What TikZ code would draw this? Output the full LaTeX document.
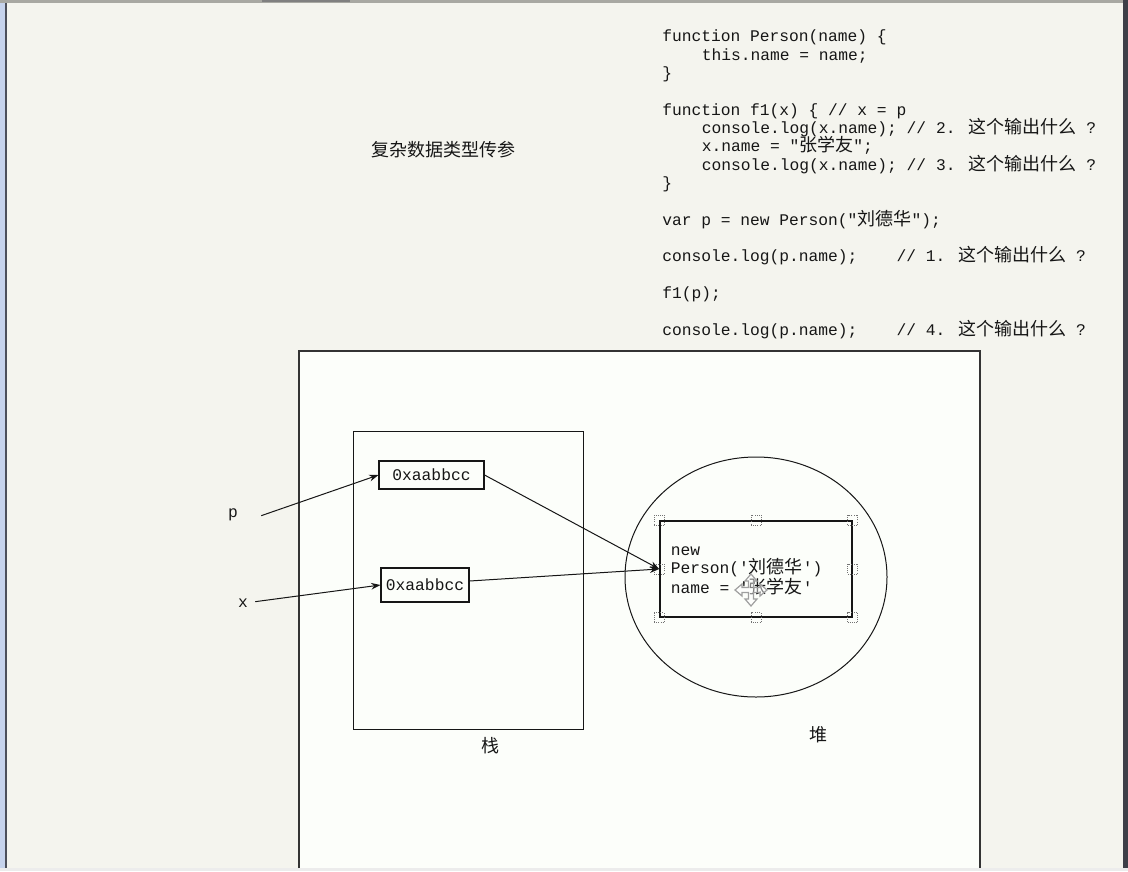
\documentclass[tikz,border=0pt]{standalone}
\usepackage{fontspec}
\usetikzlibrary{arrows.meta,shapes.geometric}
\newfontfamily\monoface{Liberation Mono}
\newfontfamily\cjk{Noto Sans CJK SC}
\newcommand\zh[1]{{\cjk\fontsize{13.5pt}{13.5pt}\selectfont #1}}
\definecolor{deskbg}{HTML}{F4F4EE}
\definecolor{sheetbg}{HTML}{FCFEFA}
\definecolor{frameblue}{HTML}{C6D3EC}
\definecolor{framedark}{HTML}{4C4F5A}
\definecolor{edgegray}{HTML}{A8A8A2}
\definecolor{ink}{HTML}{161616}
\tikzset{
  code/.style={anchor=base west, inner sep=0pt, text=ink,
    font=\monoface\fontsize{12.2pt}{13.5pt}\selectfont},
  cell/.style={draw=ink, line width=0.8pt, inner sep=0pt, text=ink,
    font=\monoface\fontsize{12.2pt}{13.5pt}\selectfont},
  arr/.style={-{Stealth[length=7pt,width=5pt]}, line width=0.75pt, draw=ink},
  handle/.style={draw=black!55, densely dotted, line width=0.6pt, minimum size=7.5pt, inner sep=0pt},
  zhlabel/.style={font=\cjk\fontsize{13.5pt}{13.5pt}\selectfont, text=ink, inner sep=0pt},
  letter/.style={font=\monoface\fontsize{12.2pt}{13.5pt}\selectfont, text=ink},
}
\begin{document}
\begin{tikzpicture}[x=0.75pt,y=-0.75pt]
\useasboundingbox (0,0) rectangle (1128,871);
% desk and window frame
\fill[deskbg] (0,0) rectangle (1128,871);
\fill[frameblue] (0,0) rectangle (4.5,871);
\fill[framedark] (4.5,0) rectangle (7,871);
\fill[edgegray] (0,0) rectangle (1128,2.5);
\fill[gray] (262,0) rectangle (350,1.5);
\fill[framedark!80!black] (1123,0) rectangle (1128,871);
\fill[gray!15] (0,868) rectangle (1128,871);

% white drawing sheet
\fill[sheetbg] (299,351) rectangle (980,868);
\draw[line width=1.4pt, draw=black!80] (299,868) -- (299,351) -- (980,351) -- (980,868);

% title
\node[zhlabel] (title) at (443,150) {复杂数据类型传参};

% source code
\node[code] (c1) at (662,41.7) {function Person(name) \{};
\node[code] (c2) at (701.5,60.05) {this.name = name;};
\node[code] (c3) at (662,78.4) {\}};
\node[code] (c4) at (662,115.1) {function f1(x) \{ // x = p};
\node[code] (c5) at (701.5,133.45) {console.log(x.name); // 2. \zh{这个输出什么} ?};
\node[code] (c6) at (701.5,151.8) {x.name = "\zh{张学友}";};
\node[code] (c7) at (701.5,170.15) {console.log(x.name); // 3. \zh{这个输出什么} ?};
\node[code] (c8) at (662,188.5) {\}};
\node[code] (c9) at (662,225.2) {var p = new Person("\zh{刘德华}");};
\node[code] (c10) at (662,261.9) {console.log(p.name);\ \ \ \ // 1. \zh{这个输出什么} ?};
\node[code] (c11) at (662,298.6) {f1(p);};
\node[code] (c12) at (662,335.3) {console.log(p.name);\ \ \ \ // 4. \zh{这个输出什么} ?};

% stack
\node[draw=ink, line width=0.8pt, inner sep=0pt, minimum width=172.5pt,
      minimum height=223.5pt, anchor=north west] (stack) at (353,431) {};
\node[zhlabel] (stacklbl) at (490,746) {栈};
\node[cell, minimum width=78.75pt, minimum height=21pt] (box1) at (431.5,475) {0xaabbcc};
\node[cell, minimum width=66pt, minimum height=25.5pt] (box2) at (425,585) {0xaabbcc};

% heap
\node[draw=ink, line width=0.75pt, ellipse, inner sep=0pt, minimum width=196.5pt,
      minimum height=180pt] (heap) at (756,577) {};
\node[zhlabel] (heaplbl) at (818,735) {堆};
\node[cell, line width=1.2pt, minimum width=144pt, minimum height=72pt] (obj) at (756,569) {};
\node[code, anchor=west, align=left] (objtext) at (670.5,571)
  {new\\Person('\zh{刘德华}')\\name\ =\ '\zh{张学友}'};
\foreach \a [count=\i] in {north west, north, north east, east,
                           south east, south, south west, west}
  \node[handle] (h\i) at (obj.\a) {};

% variables
\node[letter] (p) at (233,515) {p};
\node[letter] (x) at (243,603) {x};

% references
\draw[arr] ([xshift=14pt,yshift=-0.5pt]p.east) -- (box1.west);
\draw[arr] ([xshift=2pt,yshift=1pt]x.east) -- (box2.west);
\draw[arr] (box1.east) -- (obj.west);
\draw[arr] ([yshift=3pt]box2.east) -- (obj.west);

% move cursor over the object
\begin{scope}[shift={(751,590)}]
  \draw[gray!75, line width=0.9pt, fill=white, fill opacity=0.45]
    (0,-16) -- (6,-9) -- (2.5,-9) -- (2.5,-2.5) -- (9,-2.5) -- (9,-6) -- (16,0)
    -- (9,6) -- (9,2.5) -- (2.5,2.5) -- (2.5,9) -- (6,9) -- (0,16) -- (-6,9)
    -- (-2.5,9) -- (-2.5,2.5) -- (-9,2.5) -- (-9,6) -- (-16,0) -- (-9,-6)
    -- (-9,-2.5) -- (-2.5,-2.5) -- (-2.5,-9) -- (-6,-9) -- cycle;
\end{scope}
\end{tikzpicture}
\end{document}
